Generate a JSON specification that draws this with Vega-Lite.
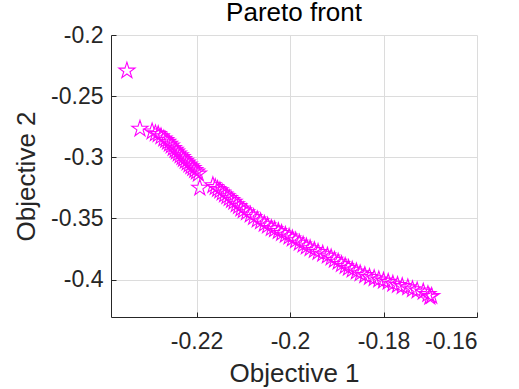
{
  "$schema": "https://vega.github.io/schema/vega-lite/v6.json",
  "width": 366,
  "height": 282,
  "autosize": {"type": "none"},
  "padding": {"left": 111, "top": 35, "right": 42, "bottom": 72},
  "background": "white",
  "title": {"text": "Pareto front", "fontSize": 26, "fontWeight": "normal", "font": "Liberation Sans", "color": "#000000", "offset": -2},
  "data": {"values": [
    {"x": -0.2349, "y": -0.2292},
    {"x": -0.2321, "y": -0.2768},
    {"x": -0.2295, "y": -0.2790},
    {"x": -0.2288, "y": -0.2805},
    {"x": -0.2282, "y": -0.2812},
    {"x": -0.2276, "y": -0.2830},
    {"x": -0.2270, "y": -0.2848},
    {"x": -0.2266, "y": -0.2860},
    {"x": -0.2262, "y": -0.2875},
    {"x": -0.2258, "y": -0.2890},
    {"x": -0.2254, "y": -0.2905},
    {"x": -0.2250, "y": -0.2925},
    {"x": -0.2246, "y": -0.2940},
    {"x": -0.2243, "y": -0.2955},
    {"x": -0.2239, "y": -0.2970},
    {"x": -0.2235, "y": -0.2985},
    {"x": -0.2231, "y": -0.3000},
    {"x": -0.2228, "y": -0.3015},
    {"x": -0.2224, "y": -0.3030},
    {"x": -0.2220, "y": -0.3045},
    {"x": -0.2216, "y": -0.3060},
    {"x": -0.2212, "y": -0.3075},
    {"x": -0.2208, "y": -0.3090},
    {"x": -0.2204, "y": -0.3105},
    {"x": -0.2200, "y": -0.3118},
    {"x": -0.2196, "y": -0.3135},
    {"x": -0.2193, "y": -0.3250},
    {"x": -0.2165, "y": -0.3230},
    {"x": -0.2160, "y": -0.3245},
    {"x": -0.2155, "y": -0.3260},
    {"x": -0.2150, "y": -0.3272},
    {"x": -0.2145, "y": -0.3290},
    {"x": -0.2140, "y": -0.3305},
    {"x": -0.2135, "y": -0.3320},
    {"x": -0.2130, "y": -0.3335},
    {"x": -0.2125, "y": -0.3350},
    {"x": -0.2120, "y": -0.3365},
    {"x": -0.2115, "y": -0.3385},
    {"x": -0.2110, "y": -0.3400},
    {"x": -0.2105, "y": -0.3420},
    {"x": -0.2100, "y": -0.3435},
    {"x": -0.2093, "y": -0.3450},
    {"x": -0.2085, "y": -0.3470},
    {"x": -0.2078, "y": -0.3490},
    {"x": -0.2070, "y": -0.3510},
    {"x": -0.2063, "y": -0.3525},
    {"x": -0.2055, "y": -0.3545},
    {"x": -0.2048, "y": -0.3560},
    {"x": -0.2040, "y": -0.3580},
    {"x": -0.2033, "y": -0.3590},
    {"x": -0.2025, "y": -0.3605},
    {"x": -0.2018, "y": -0.3620},
    {"x": -0.2010, "y": -0.3635},
    {"x": -0.2002, "y": -0.3650},
    {"x": -0.1995, "y": -0.3665},
    {"x": -0.1988, "y": -0.3680},
    {"x": -0.1980, "y": -0.3700},
    {"x": -0.1972, "y": -0.3715},
    {"x": -0.1965, "y": -0.3730},
    {"x": -0.1957, "y": -0.3745},
    {"x": -0.1948, "y": -0.3760},
    {"x": -0.1940, "y": -0.3775},
    {"x": -0.1930, "y": -0.3790},
    {"x": -0.1920, "y": -0.3805},
    {"x": -0.1912, "y": -0.3820},
    {"x": -0.1905, "y": -0.3840},
    {"x": -0.1897, "y": -0.3855},
    {"x": -0.1890, "y": -0.3875},
    {"x": -0.1882, "y": -0.3890},
    {"x": -0.1875, "y": -0.3905},
    {"x": -0.1867, "y": -0.3920},
    {"x": -0.1858, "y": -0.3935},
    {"x": -0.1850, "y": -0.3950},
    {"x": -0.1840, "y": -0.3965},
    {"x": -0.1830, "y": -0.3980},
    {"x": -0.1820, "y": -0.3990},
    {"x": -0.1810, "y": -0.4000},
    {"x": -0.1800, "y": -0.4010},
    {"x": -0.1790, "y": -0.4020},
    {"x": -0.1780, "y": -0.4035},
    {"x": -0.1770, "y": -0.4045},
    {"x": -0.1760, "y": -0.4055},
    {"x": -0.1748, "y": -0.4065},
    {"x": -0.1738, "y": -0.4080},
    {"x": -0.1728, "y": -0.4090},
    {"x": -0.1715, "y": -0.4100},
    {"x": -0.1705, "y": -0.4120},
    {"x": -0.1697, "y": -0.4135},
    {"x": -0.1701, "y": -0.4141}
  ]},
  "mark": {
    "type": "point",
    "shape": "M0,-1L0.2245,-0.309L0.951,-0.309L0.363,0.118L0.588,0.809L0,0.382L-0.588,0.809L-0.363,0.118L-0.951,-0.309L-0.2245,-0.309Z",
    "size": 290,
    "filled": false,
    "stroke": "#FF00FF",
    "strokeWidth": 1.1,
    "opacity": 1,
    "clip": true
  },
  "encoding": {
    "x": {
      "field": "x", "type": "quantitative",
      "scale": {"domain": [-0.2383, -0.16], "nice": false, "zero": false},
      "axis": {"values": [-0.22, -0.2, -0.18, -0.16], "title": "Objective 1", "format": "~g", "labelPadding": 18, "titlePadding": 7}
    },
    "y": {
      "field": "y", "type": "quantitative",
      "scale": {"domain": [-0.4306, -0.2], "nice": false, "zero": false},
      "axis": {"values": [-0.4, -0.35, -0.3, -0.25, -0.2], "title": "Objective 2", "format": "~g", "labelPadding": 13, "titlePadding": 11}
    }
  },
  "config": {
    "locale": {"number": {"decimal": ".", "thousands": ",", "grouping": [3], "currency": ["$", ""], "minus": "-"}},
    "view": {"stroke": null},
    "axis": {
      "labelFont": "Liberation Sans",
      "titleFont": "Liberation Sans",
      "labelFontSize": 23,
      "titleFontSize": 26,
      "titleFontWeight": "normal",
      "labelColor": "#262626",
      "titleColor": "#262626",
      "domainColor": "#262626",
      "tickColor": "#262626",
      "tickSize": -5,
      "gridColor": "#dcdcdc",
      "grid": true
    }
  }
}
